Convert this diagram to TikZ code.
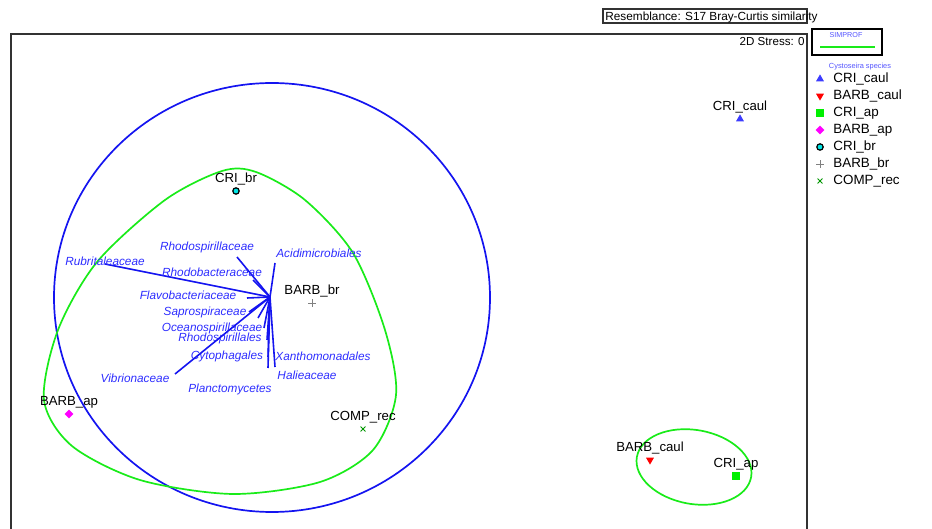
\documentclass[tikz,border=0pt]{standalone}
\usepackage{fontspec}
\setmainfont{Liberation Sans}
\usetikzlibrary{shapes.geometric,shapes.misc}

\definecolor{triblue}{RGB}{60,60,255}
\definecolor{vecblue}{RGB}{20,20,240}
\definecolor{vectext}{RGB}{45,45,255}
\definecolor{keyblue}{RGB}{85,85,255}
\definecolor{simgreen}{RGB}{25,235,25}
\definecolor{squaregreen}{RGB}{0,240,0}
\definecolor{diamondpink}{RGB}{255,0,255}
\definecolor{dotcyan}{RGB}{0,230,230}
\definecolor{crossgreen}{RGB}{0,150,0}
\definecolor{framegray}{RGB}{50,50,50}

\tikzset{%
  every marker/.style={
    inner sep=0pt,
    outer sep=0pt
  },
  marker cricaul/.style={regular polygon, regular polygon sides=3, fill=triblue, minimum size=4.6pt},
  marker barbcaul/.style={regular polygon, regular polygon sides=3, shape border rotate=180, fill=red, minimum size=4.6pt},
  marker criap/.style={rectangle, fill=squaregreen, minimum size=3.6pt},
  marker barbap/.style={diamond, fill=diamondpink, minimum size=4.4pt},
  marker cribr/.style={circle, draw=black, fill=dotcyan, minimum size=3.2pt, line width=0.6pt},
  marker barbbr/.style={cross out, rotate=45, draw=gray, minimum size=2.6pt, line width=0.4pt},
  marker comprec/.style={cross out, draw=crossgreen, minimum size=2.4pt, line width=0.5pt},
  sample label/.style={inner sep=0pt, font=\fontsize{6.6}{7}\selectfont},
  vector label/.style={inner sep=0pt, text=vectext, font=\fontsize{5.9}{7}\selectfont\itshape},
  vector line/.style={draw=vecblue, line width=0.8pt},
  legend text/.style={inner sep=0pt, anchor=west, font=\fontsize{6.7}{7}\selectfont},
  group line/.style={line width=0.85pt},
}

\begin{document}
\begin{tikzpicture}[x=0.5pt, y=-0.5pt]
\useasboundingbox (0,0) rectangle (932,529);

\draw [framegray, line width=0.9pt] (11,529) -- (11,34) -- (807,34) -- (807,529);
\node [draw=framegray, line width=0.7pt, minimum width=102pt, minimum height=7pt, inner sep=0pt] (title box) at (705,16) {};
\node [inner sep=0pt, anchor=west, font=\fontsize{5.9}{7}\selectfont] (title) at (605,17) {Resemblance: S17 Bray-Curtis similarity};
\node [inner sep=0pt, anchor=east, font=\fontsize{5.8}{7}\selectfont] (stress) at (805,42) {2D Stress: 0};

% simprof key and legend
\node [draw=black, line width=0.9pt, minimum width=35pt, minimum height=13pt, inner sep=0pt] (simprof) at (847,42) {};
\node [inner sep=0pt, text=keyblue, font=\fontsize{3.6}{4}\selectfont] at (846,35) {SIMPROF};
\coordinate (sim-a) at (820,47);
\coordinate (sim-b) at (875,47);
\draw [simgreen, line width=0.8pt] (sim-a) -- (sim-b);
\node [inner sep=0pt, text=keyblue, font=\fontsize{3.7}{4}\selectfont] (key title) at (860,67) {Cystoseira species};

\foreach \m/\l [count=\i] in {cricaul/CRI\_caul, barbcaul/BARB\_caul, criap/CRI\_ap, barbap/BARB\_ap, cribr/CRI\_br, barbbr/BARB\_br, comprec/COMP\_rec}
{
  \node [every marker/.try, marker \m/.try] (key-\m) at (820,62+\i*17) {};
  \node [legend text] (keytext-\m) at (833,62+\i*17) {\l};
}

% similarity groups
\draw [vecblue, group line] (272,297.5) ellipse [x radius=218, y radius=214.5];
\draw [simgreen, group line] plot [smooth cycle] coordinates {
  (222,171) (256,172) (305,200) (353,253) (385,330) (396,395) (373,450)
  (320,482) (233,494) (140,480) (72,446) (44,400) (58,330) (97,262) (165,200)};
\draw [simgreen, group line, rotate around={-10:(694,467)}] (694,467) ellipse [x radius=58, y radius=37];

% vectors
\coordinate (vo) at (270,297);
\foreach \m/\ex/\ey/\lx/\ly in {%
  Rubritaleaceae/105/264/105/261,
  Rhodospirillaceae/237/257/207/247,
  Rhodobacteraceae/253/280/212/272,
  Flavobacteriaceae/247/298/188/295,
  Saprospiraceae/249/312/205/312,
  Oceanospirillaceae/258/318/212/328,
  Rhodospirillales/264/328/220/338,
  Cytophagales/267/340/227/356,
  Vibrionaceae/175/374/135/378,
  Planctomycetes/268/357/230/389,
  Acidimicrobiales/275/263/319/253,
  Xanthomonadales/275/367/323/356,
  Halieaceae/268/368/307/375}
{
  \coordinate (tip-\m) at (\ex,\ey);
  \draw [vector line] (vo) -- (tip-\m);
  \node [vector label] (name-\m) at (\lx,\ly) {\m};
}

% samples
\foreach \m/\l/\x/\y in {cricaul/CRI\_caul/740/119, barbcaul/BARB\_caul/650/460, criap/CRI\_ap/736/476, barbap/BARB\_ap/69/414, cribr/CRI\_br/236/191, barbbr/BARB\_br/312/303, comprec/COMP\_rec/363/429}
{
  \node [every marker/.try, marker \m/.try] (pt-\m) at (\x,\y) {};
  \node [sample label] (lab-\m) at (\x,\y-12) {\l};
}

\end{tikzpicture}
\end{document}
